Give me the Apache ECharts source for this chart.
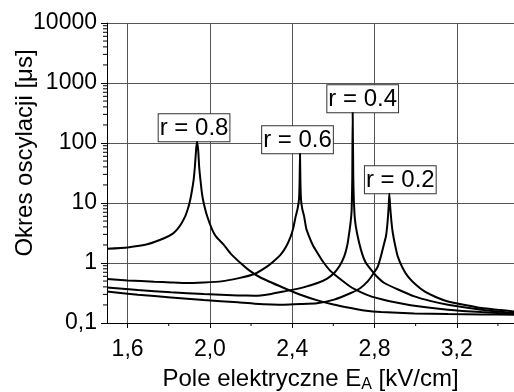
<!DOCTYPE html>
<html>
<head>
<meta charset="utf-8">
<script src="https://cdn.jsdelivr.net/npm/echarts@6/dist/echarts.min.js"></script>
<style>
  html, body { margin: 0; padding: 0; background: #fff; }
  #chart { width: 514px; height: 392px; }
</style>
</head>
<body>
<div id="chart"></div>
<script>
// Oscillation period T [us] vs. electric field E_A [kV/cm] for four values of r
const r08E = [1.50, 1.60, 1.70, 1.78, 1.82, 1.84, 1.86, 1.88, 1.89, 1.901, 1.91, 1.921, 1.927, 1.933, 1.9376,
              1.943, 1.948, 1.954, 1.962, 1.970, 1.985, 2.011, 2.03, 2.067, 2.10, 2.149, 2.198, 2.25, 2.36, 2.44,
              2.523, 2.60, 2.685, 2.75, 2.832, 2.994, 3.157, 3.32, 3.478];
const r08T = [1.73, 1.82, 2.07, 2.61, 3.09, 3.59, 4.47, 5.98, 7.41, 10.0, 14.1, 24.4, 39.8, 77.3, 105,
              77.3, 39.8, 24.4, 14.1, 10.0, 6.31, 3.59, 2.75, 2.02, 1.45, 1.0, 0.724, 0.562, 0.383, 0.295,
              0.238, 0.204, 0.178, 0.162, 0.152, 0.1445, 0.141, 0.139, 0.1375];

const r06E = [1.50, 1.60, 1.73, 1.81, 1.89, 1.97, 2.055, 2.136, 2.217, 2.279, 2.31, 2.344, 2.37, 2.393, 2.405,
              2.417, 2.426, 2.433, 2.436, 2.438, 2.440, 2.443, 2.449, 2.458, 2.468, 2.482, 2.50, 2.523, 2.55,
              2.588, 2.63, 2.685, 2.73, 2.783, 2.83, 2.88, 2.994, 3.157, 3.32, 3.478];
const r06T = [0.541, 0.513, 0.488, 0.475, 0.464, 0.475, 0.494, 0.554, 0.656, 0.878, 1.07, 1.375, 1.86, 2.78, 3.80,
              5.98, 7.94, 11.4, 22.4, 66, 22.4, 11.4, 7.94, 5.98, 3.80, 2.78, 2.0, 1.47, 1.05,
              0.724, 0.55, 0.398, 0.331, 0.278, 0.251, 0.229, 0.194, 0.167, 0.152, 0.143];

const r04E = [1.50, 1.65, 1.81, 1.97, 2.136, 2.217, 2.29, 2.36, 2.45, 2.523, 2.57, 2.604, 2.63, 2.653, 2.668,
              2.677, 2.684, 2.689, 2.692, 2.694, 2.697, 2.6995, 2.705, 2.715, 2.734, 2.755, 2.783, 2.81, 2.848,
              2.92, 2.994, 3.07, 3.157, 3.32, 3.478];
const r04T = [0.392, 0.355, 0.324, 0.304, 0.288, 0.285, 0.302, 0.336, 0.389, 0.464, 0.55, 0.681, 0.891, 1.29, 2.0,
              3.16, 4.79, 7.73, 25, 320, 25, 11.4, 5.27, 3.16, 1.67, 1.05, 0.773, 0.603, 0.464,
              0.355, 0.278, 0.234, 0.202, 0.167, 0.147];

const r02E = [1.50, 1.65, 1.81, 1.97, 2.136, 2.217, 2.36, 2.441, 2.52, 2.604, 2.685, 2.73, 2.767, 2.79, 2.816,
              2.832, 2.845, 2.856, 2.864, 2.869, 2.872, 2.876, 2.882, 2.889, 2.90, 2.913, 2.935, 2.962, 3.0,
              3.043, 3.10, 3.157, 3.24, 3.32, 3.40, 3.478];
const r02T = [0.336, 0.296, 0.267, 0.242, 0.221, 0.21, 0.202, 0.207, 0.214, 0.245, 0.316, 0.38, 0.494, 0.631, 0.871,
              1.32, 2.0, 2.82, 5.01, 8.91, 14.3, 8.91, 5.01, 3.16, 2.0, 1.29, 0.851, 0.598, 0.437,
              0.336, 0.269, 0.229, 0.2, 0.178, 0.166, 0.156];

const curveNames = ['r = 0.8', 'r = 0.6', 'r = 0.4', 'r = 0.2'];

// Axis ticks
const xMajorTicks = [1.6, 2.0, 2.4, 2.8, 3.2];
const xMinorTicks = [1.8, 2.2, 2.6, 3.0, 3.4];
const xMin = 1.5, xMax = 3.478;
const yMin = 0.1, yMax = 10000;
const yMinorTicks = [];
for (let k = -1; k <= 3; k++) {
  for (let m = 2; m <= 9; m++) yMinorTicks.push(+(m * Math.pow(10, k)).toPrecision(3));
}

const FONT = '"Liberation Sans", Arial, sans-serif';

function pairs(E, T) { return E.map((e, i) => [e, T[i]]); }
function peakOf(E, T) {
  let idx = 0;
  T.forEach((t, i) => { if (t > T[idx]) idx = i; });
  return [E[idx], T[idx]];
}

const curves = [[r08E, r08T], [r06E, r06T], [r04E, r04T], [r02E, r02T]];
const labelOffsets = [[-3, 0], [-2.5, 0], [10, 0], [11, 0]];

const lineSeries = curves.map(([E, T], i) => ({
  name: curveNames[i],
  type: 'line',
  data: pairs(E, T),
  showSymbol: false,
  symbol: 'none',
  smooth: 0.15,
  lineStyle: { color: '#000', width: 2 },
  z: 5,
  markPoint: {
    symbol: 'circle',
    symbolSize: 1,
    itemStyle: { color: 'transparent' },
    silent: true,
    label: {
      show: true,
      position: 'top',
      distance: 0,
      offset: labelOffsets[i],
      formatter: curveNames[i],
      color: '#000',
      fontFamily: FONT,
      fontSize: 24,
      lineHeight: 26,
      backgroundColor: '#fff',
      borderColor: '#333',
      borderWidth: 1,
      padding: [1, 1, 0, 1]
    },
    data: [{ coord: peakOf(E, T) }]
  }
}));

const minorTickSeries = [
  {
    type: 'custom',
    silent: true,
    clip: false,
    data: yMinorTicks.map(v => [xMin, v]),
    renderItem: function (params, api) {
      const p = api.coord([api.value(0), api.value(1)]);
      return {
        type: 'line',
        shape: { x1: p[0] - 4, y1: p[1], x2: p[0], y2: p[1] },
        style: { stroke: '#000', lineWidth: 1 }
      };
    },
    z: 6
  },
  {
    type: 'custom',
    silent: true,
    clip: false,
    data: xMinorTicks.map(v => [v, yMin]),
    renderItem: function (params, api) {
      const p = api.coord([api.value(0), api.value(1)]);
      return {
        type: 'line',
        shape: { x1: p[0], y1: p[1], x2: p[0], y2: p[1] + 3 },
        style: { stroke: '#000', lineWidth: 1 }
      };
    },
    z: 6
  }
];

const chart = echarts.init(document.getElementById('chart'), null, { renderer: 'canvas' });
chart.setOption({
  animation: false,
  backgroundColor: '#fff',
  grid: { left: 107, top: 23, right: 0, bottom: 69, containLabel: false, outerBoundsMode: 'none' },
  xAxis: {
    type: 'value',
    min: xMin,
    max: xMax,
    name: 'Pole elektryczne E{sub|A} [kV/cm]',
    nameLocation: 'middle',
    nameGap: 42,
    nameMoveOverlap: false,
    nameTextStyle: {
      color: '#000', fontFamily: FONT, fontSize: 24,
      rich: { sub: { fontFamily: FONT, fontSize: 16, verticalAlign: 'bottom', padding: [12, 0, 0, 0] } }
    },
    axisLine: { show: true, onZero: false, lineStyle: { color: '#000', width: 1 } },
    axisTick: { show: true, inside: false, length: 5, customValues: xMajorTicks, lineStyle: { color: '#000' } },
    axisLabel: {
      customValues: xMajorTicks,
      margin: 15,
      color: '#000',
      fontFamily: FONT,
      fontSize: 23,
      formatter: v => v.toFixed(1).replace('.', ',')
    },
    splitLine: { show: true, lineStyle: { color: '#555', width: 1 } }
  },
  yAxis: {
    type: 'log',
    logBase: 10,
    min: yMin,
    max: yMax,
    name: 'Okres oscylacji [\u03bcs]',
    nameLocation: 'middle',
    nameGap: 70,
    nameMoveOverlap: false,
    nameTextStyle: { color: '#000', fontFamily: FONT, fontSize: 24, padding: [0, 0, 0, 40] },
    axisLine: { show: true, lineStyle: { color: '#000', width: 1 } },
    axisTick: { show: true, inside: false, length: 6, lineStyle: { color: '#000' } },
    axisLabel: {
      margin: 10,
      color: '#000',
      fontFamily: FONT,
      fontSize: 23,
      formatter: v => String(+(+v).toPrecision(3)).replace('.', ',')
    },
    splitLine: { show: true, lineStyle: { color: '#555', width: 1 } }
  },
  series: lineSeries.concat(minorTickSeries)
});
</script>
</body>
</html>
